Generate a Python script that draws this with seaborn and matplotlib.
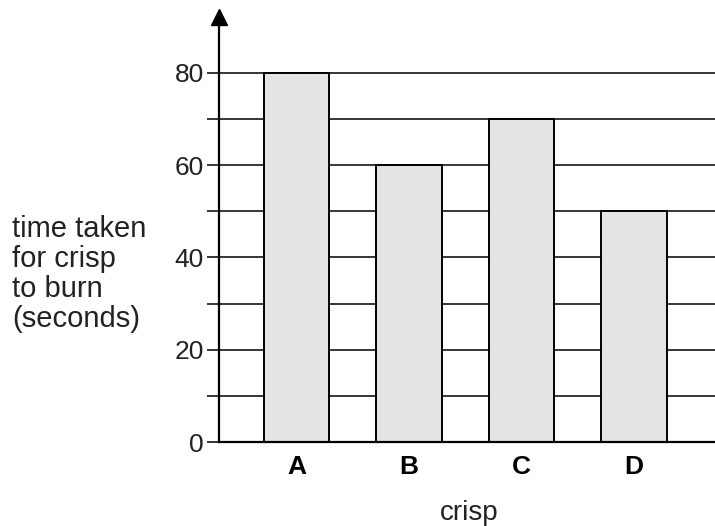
import numpy as np
import pandas as pd
import matplotlib
matplotlib.use('Agg')
import matplotlib.pyplot as plt
import seaborn as sns

# Data
crisps = ['A', 'B', 'C', 'D']
burn_time = [80, 60, 70, 50]

df = pd.DataFrame({'crisp': crisps, 'time': burn_time})

sns.set_style('white')
plt.rcParams['font.family'] = ['Liberation Sans', 'DejaVu Sans']

fig = plt.figure(figsize=(7.15, 5.26), dpi=100)
ax = fig.add_axes([219 / 715, 1 - 442 / 526, 1 - 219 / 715, (442 - 17) / 526])

sns.barplot(data=df, x='crisp', y='time', color='#e4e4e4', edgecolor='black',
            linewidth=1.4, width=0.58, saturation=1, ax=ax, zorder=2)

ax.set_xlim(-0.689, 3.72)
ax.set_ylim(0, 92.1)

# grid every 10 behind the bars
ax.set_yticks([0, 20, 40, 60, 80])
ax.set_yticks([10, 30, 50, 70], minor=True)
ax.yaxis.grid(True, which='both', color='black', linewidth=1.1)
ax.set_axisbelow(True)
ax.tick_params(axis='y', which='both', direction='out', length=9, width=1.1,
               color='black', left=True, labelsize=19, pad=2,
               labelcolor='#222222')
ax.tick_params(axis='x', length=0, pad=9.5)
for lab in ax.get_xticklabels():
    lab.set_fontweight('bold')
    lab.set_fontsize(19)
    lab.set_color('black')

for s in ['top', 'right']:
    ax.spines[s].set_visible(False)
ax.spines['left'].set_color('black')
ax.spines['left'].set_linewidth(1.6)
ax.spines['bottom'].set_color('black')
ax.spines['bottom'].set_linewidth(1.6)
ax.set_xlabel('')
ax.set_ylabel('')

# arrow head on the y axis
ax.plot(0, 1, marker='^', color='black', markersize=11, transform=ax.transAxes,
        clip_on=False)

fig.text(12 / 715, 1 - 274 / 526, 'time taken\nfor crisp\nto burn\n(seconds)',
         ha='left', va='center', fontsize=21, linespacing=1.08, color='#222222')
fig.text(469 / 715, 1 - 520 / 526, 'crisp', ha='center', va='baseline',
         fontsize=20, color='#222222')

fig.savefig('out.png', dpi=100)
